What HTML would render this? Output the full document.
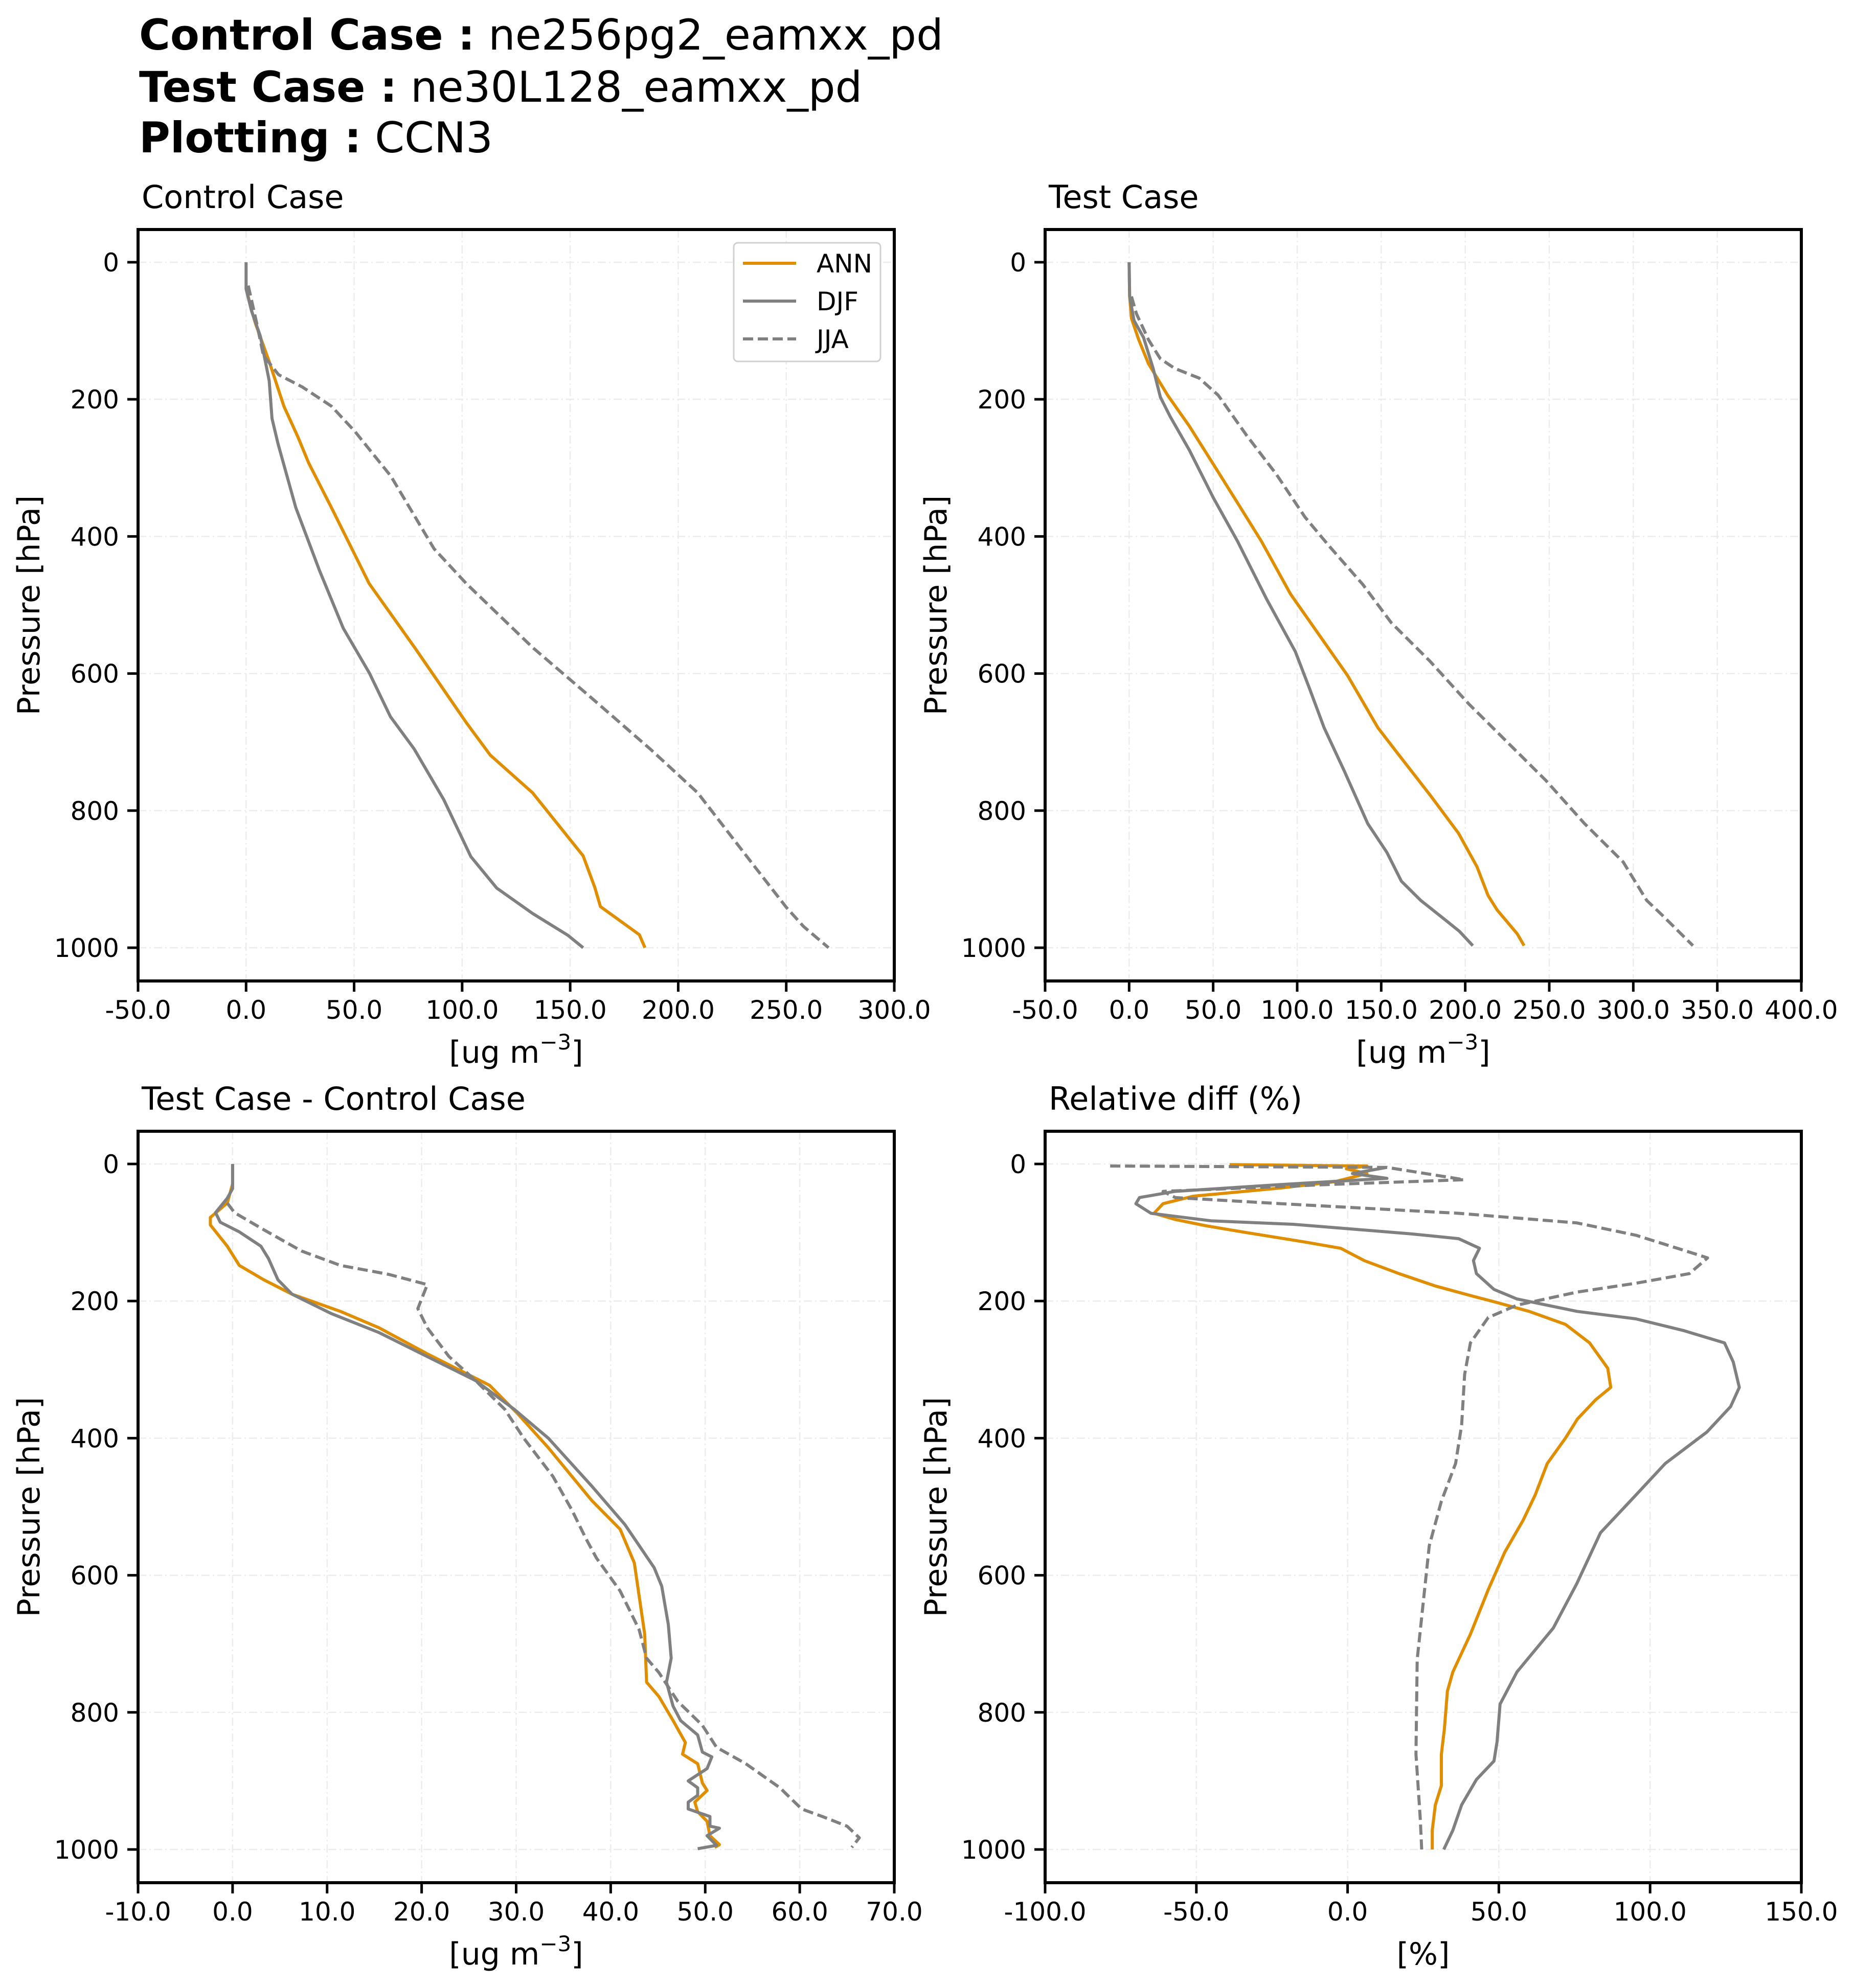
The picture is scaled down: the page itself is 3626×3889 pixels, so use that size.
<!DOCTYPE html>
<html><head><meta charset="utf-8"><style>
html,body{margin:0;padding:0;background:#fff}
svg{display:block;font-family:"DejaVu Sans","Liberation Sans",sans-serif}
</style></head><body>
<svg id="fig" width="3626" height="3889" viewBox="0 0 3626 3889" xmlns="http://www.w3.org/2000/svg">
<g font-size="83">
<text x="272" y="97"><tspan font-weight="bold">Control Case :</tspan> ne256pg2_eamxx_pd</text>
<text x="272" y="199"><tspan font-weight="bold">Test Case :</tspan> ne30L128_eamxx_pd</text>
<text x="272" y="298"><tspan font-weight="bold">Plotting :</tspan> CCN3</text>
</g>
</svg>
<script>
// ---- Data (pressure in hPa, values in axis units) ----
const yTicks = [0, 200, 400, 600, 800, 1000];
const xTicksControl = [-50, 0, 50, 100, 150, 200, 250, 300];
const xTicksTest = [-50, 0, 50, 100, 150, 200, 250, 300, 350, 400];
const xTicksDiff = [-10, 0, 10, 20, 30, 40, 50, 60, 70];
const xTicksRel = [-100, -50, 0, 50, 100, 150];
const seriesNames = ["ANN", "DJF", "JJA"];

const controlAnnP = [50,70,90,145,210,255,293,358,469,562,672,719,774,866,912,940,981,1000];
const controlAnnV = [1,2.5,4.4,10.7,17.5,24,29,39.5,57,78,102,113,132.6,156,161.4,164,182,184.6];
const controlDjfP = [0,39,71,108,173,228,265,358,450,534,599,663,710,784,867,913,950,982,1000];
const controlDjfV = [0,0,2.5,6.6,10.7,12,14.8,23,34,45,57,66.8,77.8,91.5,104,116,132.6,149,156];
const controlJjaP = [34,90,136,164,182,210,247,312,418,469,562,636,710,774,876,941,969,1000];
const controlJjaV = [1,5,8,15,26,39.5,50.4,67,87,102,132.6,160,187,209,234,250,258,269.6];

const testAnnP = [0,50,82,113,148,194,239,295,351,407,484,533,603,679,714,777,833,882,924,945,980,997];
const testAnnV = [0,0.3,1.4,5.7,11.5,22.9,35.8,50.2,64.5,78.7,96,110,130,148,159,179,196,207,213.6,219,231,235];
const testDjfP = [0,50,85,110,155,197,225,274,344,407,491,568,623,679,742,819,861,903,931,959,976,997];
const testDjfV = [0,0.3,2.9,8.6,14.3,18.6,24.4,35.8,50.2,64.5,81.7,98.9,107.5,116,128,142,153.4,162,173.5,187.9,196.5,204.5];
const testJjaP = [50,75,113,141,155,169,194,253,309,372,414,470,526,582,644,700,756,819,875,931,952,997];
const testJjaV = [1.4,4.3,11.5,18.6,27.2,41.6,53,70,87.5,104.7,119,139,156,179,202,225,248,271,294,308,317,335.5];

const diffAnnP = [0,29,57,78,89,120,148,169,190,215,239,277,323,365,414,491,533,582,686,756,777,812,844,861,875,903,914,931,945,959,980,993,997];
const diffAnnV = [0,0,-0.56,-2.35,-2.35,-0.56,0.71,3.3,6.3,11.4,15.5,20.6,27.2,30.2,33.4,38,41,42.5,43.6,43.8,45.1,46.6,47.9,47.6,49.2,49.7,50.2,48.9,49.2,50.2,50.5,51.5,51];
const diffDjfP = [0,36,50,71,85,99,120,138,169,190,218,246,281,316,358,400,470,526,589,616,672,721,756,791,812,833,858,865,882,900,910,921,931,941,952,966,969,980,994,999];
const diffDjfV = [0,0,-0.56,-1.8,-1.3,0.7,3,3.8,4.8,6.3,10.4,15.5,20.6,25.7,29.8,33.4,38,41.5,44.6,45.4,46.1,46.4,45.9,46.6,47.4,49.2,49.7,50.7,50.2,48.2,49.2,49.2,48.2,48.2,50.5,50.5,51.5,50.2,51.2,49.2];
const diffJjaP = [57,71,96,127,148,161,176,211,239,281,316,358,400,456,505,547,575,623,679,721,742,784,819,851,875,910,941,952,966,983,997];
const diffJjaV = [-0.56,0.2,3.3,7.3,11.4,16.5,20.6,19.6,20.6,22.9,25.7,28.8,30.8,33.9,35.9,37.4,38.5,41,43,43.8,45.1,47.1,49.7,51.2,54.3,57.9,60.2,62.4,65,66.3,65.5];

const relAnnP = [0.9,3,7,14,26,35,47,58,72,81,90,100,114,123,141,160,178,192,201,215,234,261,298,326,344,372,400,437,483,520,566,621,686,741,769,824,861,907,935,972,1000];
const relAnnV = [-39,6.4,-0.4,6.4,-4.3,-21.9,-51,-61,-64,-57,-47,-33.6,-14,-2.3,5.5,17,29,40.6,48.4,60,72,80,86,87,82,76,72,66,62,58,52,46.5,40.6,34.8,33,32,31,31,29,28,28];
const relDjfP = [5,14,21,30,40,49,58,72,83,88,95,102,109,123,141,160,183,197,215,226,243,261,289,326,354,391,437,483,538,612,677,741,788,843,871,898,935,972,1000];
const relDjfV = [13,1.6,13,-22,-57,-68.8,-70,-65,-45,-18,1.6,21,36.7,43.6,41.6,42.6,48.4,56,75.8,95.3,111,124.6,127.5,129.5,126.6,118.8,105,95.3,83.6,75.8,68,56,50.4,49.4,48.4,42.6,37.7,34.8,31.8];
const relJjaP = [3,5,23,30,40,49,58,72,86,104,123,137,160,174,187,206,224,261,307,381,437,492,557,640,723,861,954,1000];
const relJjaV = [-78.5,13,38.5,-6.3,-61,-57,-22,36.7,75.8,95.3,109,119,113,95.3,75.8,56,46.5,40.6,38.7,37.7,35.7,31,27,25,23,22.6,24,24.5];

// ---- Rendering ----
const NS = "http://www.w3.org/2000/svg";
const svg = document.getElementById("fig");
const COLORS = {ANN: "#E08E00", DJF: "#808080", JJA: "#808080"};
const YMIN = -47.7, YMAX = 1048.5;
function mk(tag, attrs, parent) {
  const el = document.createElementNS(NS, tag);
  for (const k in attrs) el.setAttribute(k, attrs[k]);
  (parent || svg).appendChild(el);
  return el;
}
function panel(cfg) {
  const {left, top, w, h, xmin, xmax, xticks, title, xlabel, key, series} = cfg;
  const g = mk("g", {});
  
  
  const sx = v => left + (v - xmin) / (xmax - xmin) * w;
  const sy = p => top + (p - YMIN) / (YMAX - YMIN) * h;
  xticks.forEach(t => {
    const l = mk("line", {x1: sx(t), x2: sx(t), y1: top, y2: top + h, stroke: "#ececec", "stroke-width": 2.5, "stroke-dasharray": "16 6 3 6"}, g);
    
    
  });
  yTicks.forEach(t => {
    const l = mk("line", {x1: left, x2: left + w, y1: sy(t), y2: sy(t), stroke: "#ececec", "stroke-width": 2.5, "stroke-dasharray": "16 6 3 6"}, g);
    
    
  });
  series.forEach(s => {
    const d = s.p.map((p, i) => (i ? "L" : "M") + sx(s.v[i]).toFixed(1) + "," + sy(p).toFixed(1)).join(" ");
    const attrs = {d: d, fill: "none", stroke: COLORS[s.name], "stroke-width": 6, "stroke-linejoin": "round"};
    if (s.name === "JJA") attrs["stroke-dasharray"] = "20 9";
    const path = mk("path", attrs, g);
    
    
  });
  const fr = mk("rect", {x: left, y: top, width: w, height: h, fill: "none", stroke: "#000", "stroke-width": 6}, g);
  
  
  xticks.forEach(t => {
    const tl = mk("line", {x1: sx(t), x2: sx(t), y1: top + h, y2: top + h + 21, stroke: "#000", "stroke-width": 5}, g);
    
    
    const tx = mk("text", {x: sx(t), y: top + h + 74, "font-size": 50, "text-anchor": "middle"}, g);
    tx.textContent = t.toFixed(1);
    
    
  });
  yTicks.forEach(t => {
    const tl = mk("line", {x1: left - 21, x2: left, y1: sy(t), y2: sy(t), stroke: "#000", "stroke-width": 5}, g);
    
    
    const tx = mk("text", {x: left - 37, y: sy(t) + 18, "font-size": 50, "text-anchor": "end"}, g);
    tx.textContent = String(t);
    
    
  });
  const xl = mk("text", {x: left + w / 2, y: top + h + 160, "font-size": 60, "text-anchor": "middle"}, g);
  if (xlabel === "ug") {
    xl.innerHTML = '[ug m<tspan font-size="42" dy="-26">−3</tspan><tspan dy="26">]</tspan>';
  } else {
    xl.textContent = xlabel;
  }
  
  
  const yl = mk("text", {x: 0, y: 0, "font-size": 60, "text-anchor": "middle", transform: "translate(" + (left - 193) + "," + (top + h / 2) + ") rotate(-90)"}, g);
  yl.textContent = "Pressure [hPa]";
  
  
  const tt = mk("text", {x: left + 7, y: top - 42, "font-size": 62}, g);
  tt.textContent = title;
  
  
  return g;
}
panel({left: 270, top: 449, w: 1479, h: 1470, xmin: -50, xmax: 300, xticks: xTicksControl, title: "Control Case", xlabel: "ug", key: "control",
  series: [{name: "ANN", p: controlAnnP, v: controlAnnV}, {name: "DJF", p: controlDjfP, v: controlDjfV}, {name: "JJA", p: controlJjaP, v: controlJjaV}]});
panel({left: 2044, top: 449, w: 1479, h: 1470, xmin: -50, xmax: 400, xticks: xTicksTest, title: "Test Case", xlabel: "ug", key: "test",
  series: [{name: "ANN", p: testAnnP, v: testAnnV}, {name: "DJF", p: testDjfP, v: testDjfV}, {name: "JJA", p: testJjaP, v: testJjaV}]});
panel({left: 270, top: 2213, w: 1479, h: 1470, xmin: -10, xmax: 70, xticks: xTicksDiff, title: "Test Case - Control Case", xlabel: "ug", key: "diff",
  series: [{name: "ANN", p: diffAnnP, v: diffAnnV}, {name: "DJF", p: diffDjfP, v: diffDjfV}, {name: "JJA", p: diffJjaP, v: diffJjaV}]});
panel({left: 2044, top: 2213, w: 1479, h: 1470, xmin: -100, xmax: 150, xticks: xTicksRel, title: "Relative diff (%)", xlabel: "[%]", key: "relative",
  series: [{name: "ANN", p: relAnnP, v: relAnnV}, {name: "DJF", p: relDjfP, v: relDjfV}, {name: "JJA", p: relJjaP, v: relJjaV}]});

const lg = mk("g", {});


const lbox = mk("rect", {x: 1435, y: 475, width: 287, height: 232, rx: 8, fill: "#fff", stroke: "#d0d0d0", "stroke-width": 3}, lg);


seriesNames.forEach((n, i) => {
  const y = 515 + i * 74;
  const la = {x1: 1453, x2: 1557, y1: y, y2: y, stroke: COLORS[n], "stroke-width": 6};
  if (n === "JJA") la["stroke-dasharray"] = "20 9";
  const l = mk("line", la, lg);
  
  
  const t = mk("text", {x: 1597, y: y + 18, "font-size": 50}, lg);
  t.textContent = n;
  
  
});
</script>
</body></html>
